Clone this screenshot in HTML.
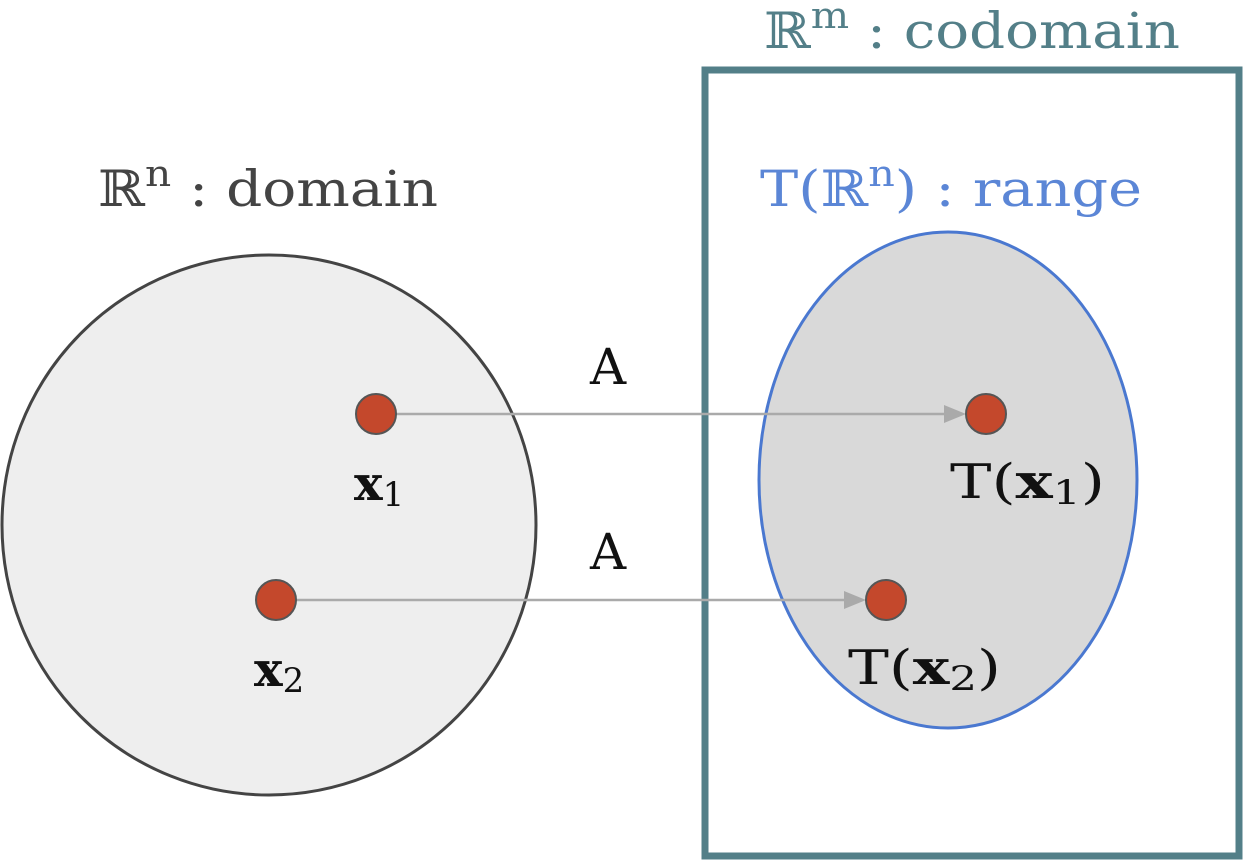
<!DOCTYPE html>
<html><head><meta charset="utf-8"><style>
html,body{margin:0;padding:0;background:#fff;width:1245px;height:861px;overflow:hidden}
svg{display:block}
text{font-family:"DejaVu Serif","Liberation Serif",serif}
</style></head><body>
<svg width="1245" height="861" viewBox="0 0 1245 861">
<ellipse cx="269" cy="525" rx="267" ry="270" fill="#eeeeee" stroke="#444" stroke-width="3"/>
<rect x="705" y="70" width="534" height="786" fill="none" stroke="#537f88" stroke-width="7"/>
<ellipse cx="948" cy="480" rx="189" ry="248" fill="#d9d9d9" stroke="#4a78d0" stroke-width="3"/>
<line x1="396" y1="414" x2="950" y2="414" stroke="#aaaaaa" stroke-width="2.5"/>
<path d="M944,405 L966,414 L944,423 z" fill="#aaaaaa"/>
<line x1="296" y1="600" x2="850" y2="600" stroke="#aaaaaa" stroke-width="2.5"/>
<path d="M844,591 L866,600 L844,609 z" fill="#aaaaaa"/>
<circle cx="376" cy="414" r="20" fill="#c4482c" stroke="#555" stroke-width="2"/>
<circle cx="276" cy="600" r="20" fill="#c4482c" stroke="#555" stroke-width="2"/>
<circle cx="986" cy="414" r="20" fill="#c4482c" stroke="#555" stroke-width="2"/>
<circle cx="886" cy="600" r="20" fill="#c4482c" stroke="#555" stroke-width="2"/>
<text x="98" y="206" font-size="50" fill="#444" textLength="340" lengthAdjust="spacingAndGlyphs">ℝ<tspan font-size="36" dy="-20">n</tspan><tspan dy="20"> : domain</tspan></text>
<text x="764" y="48" font-size="50" fill="#537f88" textLength="416" lengthAdjust="spacingAndGlyphs">ℝ<tspan font-size="36" dy="-20">m</tspan><tspan dy="20"> : codomain</tspan></text>
<text x="760" y="206" font-size="50" fill="#5b86d6" textLength="382" lengthAdjust="spacingAndGlyphs">T(ℝ<tspan font-size="36" dy="-20">n</tspan><tspan dy="20">) : range</tspan></text>
<text x="590" y="384" font-size="50" fill="#111">A</text>
<text x="590" y="569" font-size="50" fill="#111">A</text>
<text x="354" y="500" font-size="48" font-weight="bold" fill="#111">x<tspan font-size="34" font-weight="normal" dy="6">1</tspan></text>
<text x="254" y="686" font-size="48" font-weight="bold" fill="#111">x<tspan font-size="34" font-weight="normal" dy="6">2</tspan></text>
<text x="950" y="498" font-size="48" fill="#111" textLength="155" lengthAdjust="spacingAndGlyphs">T(<tspan font-weight="bold">x</tspan><tspan font-size="34" dy="6">1</tspan><tspan dy="-6">)</tspan></text>
<text x="848" y="684" font-size="48" fill="#111" textLength="153" lengthAdjust="spacingAndGlyphs">T(<tspan font-weight="bold">x</tspan><tspan font-size="34" dy="6">2</tspan><tspan dy="-6">)</tspan></text>
</svg>
</body></html>
